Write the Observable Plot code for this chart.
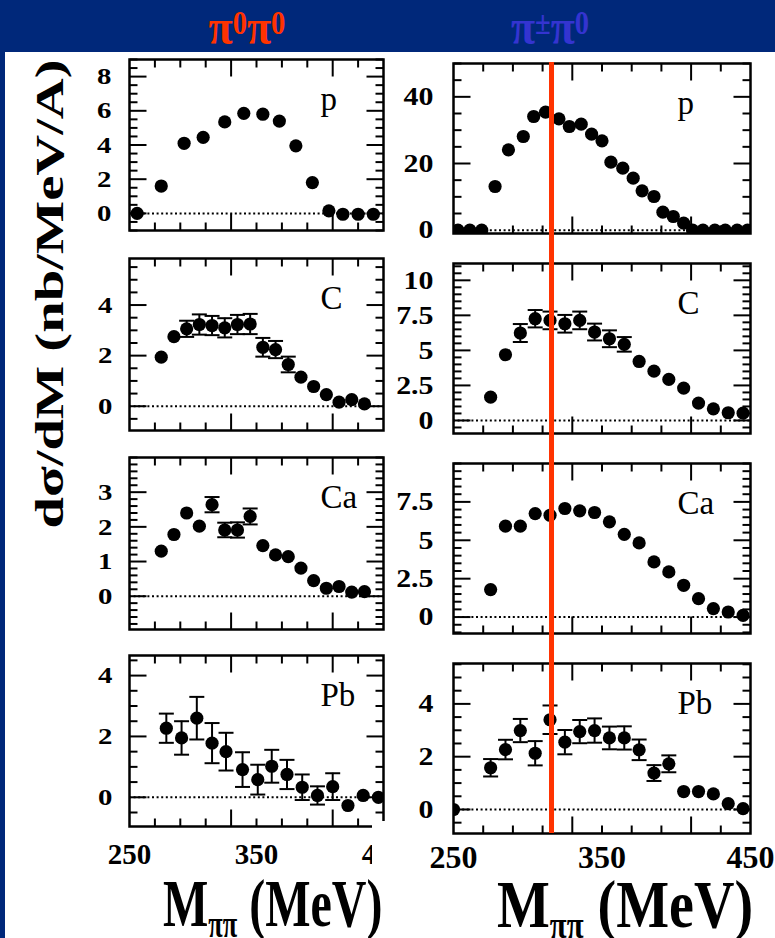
<!DOCTYPE html>
<html>
<head>
<meta charset="utf-8">
<script src="https://cdn.jsdelivr.net/npm/d3@7"></script>
<script src="https://cdn.jsdelivr.net/npm/@observablehq/plot@0.6"></script>
<style>
html,body{margin:0;padding:0;background:#00287a;}
body{width:775px;height:938px;overflow:hidden;}
#page{position:relative;width:775px;height:938px;background:#00287a;font-family:'Liberation Serif','Times New Roman',serif;}
#white{position:absolute;left:5px;top:52px;width:770px;height:886px;background:#fff;}
.plot{position:absolute;}
.plot svg{overflow:visible;}
.plot svg text{font-family:'Liberation Serif','Times New Roman',serif !important;}
.coltitle{position:absolute;top:0px;font-weight:bold;font-size:44px;line-height:48px;white-space:nowrap;transform:translateX(-50%) scaleY(1.15);transform-origin:50% 0;font-family:'Liberation Serif','Times New Roman',serif;}
.coltitle sup{font-size:0.65em;vertical-align:0.3em;line-height:0;}
.xt{position:absolute;font-weight:bold;line-height:0.6;white-space:nowrap;color:#000;font-family:'Liberation Serif','Times New Roman',serif;}
.xt .sub{font-size:0.55em;position:relative;top:0.3em;}
#ytitle{position:absolute;left:49px;top:294px;font-weight:bold;font-size:39px;line-height:1;white-space:nowrap;color:#000;font-family:'Liberation Serif','Times New Roman',serif;transform:translate(-50%,-50%) rotate(-90deg) scaleX(1.45);}
#crop{position:absolute;left:372px;top:821px;width:48px;height:60px;background:#fff;}
</style>
</head>
<body>
<div id="page">
  <div id="white"></div>
  <div class="coltitle" style="left:247px;color:#ff3300">π<sup>0</sup>π<sup>0</sup></div>
  <div class="coltitle" style="left:550px;color:#3434d0">π<sup>±</sup>π<sup>0</sup></div>
  <div id="ytitle">dσ/dM (nb/MeV/A)</div>
  <div class="xt" id="xtL" style="left:163px;top:895.6px;font-size:48px;transform:scaleY(1.4);transform-origin:0 30.6px;">M<span class="sub">ππ</span> (MeV)</div>
  <div class="xt" id="xtR" style="left:497px;top:892.3px;font-size:56px;transform:scaleY(1.22);transform-origin:0 35.7px;">M<span class="sub">ππ</span> (MeV)</div>
</div>
<script>
// ---------------- data ----------------
// π0π0 (left column)
const pi00_p_x  = [256, 275, 293, 308, 325, 340, 355, 368, 381, 394, 407, 418, 430, 442];
const pi00_p_y  = [0, 1.6, 4.1, 4.45, 5.35, 5.85, 5.8, 5.4, 3.95, 1.8, 0.15, -0.05, -0.05, -0.05];

const pi00_C_x  = [275, 285, 295, 305, 315, 325, 335, 345, 355, 365, 375, 385, 395, 405, 415, 425, 435];
const pi00_C_y  = [1.94, 2.75, 3.06, 3.23, 3.19, 3.1, 3.23, 3.25, 2.33, 2.24, 1.65, 1.15, 0.78, 0.46, 0.16, 0.26, 0.09];
const pi00_C_e  = [null, null, 0.32, 0.4, 0.38, 0.38, 0.38, 0.4, 0.37, 0.34, 0.31, null, null, null, null, null, null];

const pi00_Ca_x = [275, 285, 295, 305, 315, 325, 335, 345, 355, 365, 375, 385, 395, 405, 415, 425, 435];
const pi00_Ca_y = [1.30, 1.78, 2.40, 2.02, 2.64, 1.91, 1.91, 2.30, 1.46, 1.19, 1.14, 0.81, 0.45, 0.23, 0.28, 0.12, 0.13];
const pi00_Ca_e = [null, null, null, null, 0.22, 0.21, 0.22, 0.23, null, null, null, null, null, null, null, null, null];

const pi00_Pb_x = [279, 291, 303, 315, 326, 339, 351, 362, 374, 386, 398, 410, 422, 434, 446];
const pi00_Pb_y = [2.27, 1.95, 2.6, 1.78, 1.5, 0.91, 0.58, 1.02, 0.75, 0.33, 0.06, 0.35, -0.27, 0.06, 0.0];
const pi00_Pb_e = [0.48, 0.55, 0.70, 0.66, 0.62, 0.57, 0.49, 0.54, 0.48, 0.42, 0.30, 0.44, null, null, null];

// π±π0 (right column)
const pipm_p_x  = [253, 261, 269, 278, 287, 297, 304, 312, 321, 328, 336, 343, 350, 356, 364, 371, 377, 385, 391, 398, 405, 411, 418, 426, 433, 441, 448];
const pipm_p_y  = [0, 0, 0, 13.1, 24.1, 28.1, 34.1, 35.4, 33.4, 31.1, 31.8, 28.8, 26.8, 20.4, 18.6, 15.6, 11.8, 10.1, 5.4, 4.1, 2.1, 0, 0, 0, 0, 0, 0];

const pipm_C_x  = [275, 285, 295, 305, 315, 325, 335, 345, 355, 365, 375, 385, 395, 405, 415, 425, 435, 445];
const pipm_C_y  = [1.66, 4.69, 6.24, 7.26, 7.14, 6.9, 7.14, 6.31, 5.83, 5.43, 4.21, 3.52, 2.93, 2.31, 1.24, 0.83, 0.55, 0.52];
const pipm_C_e  = [null, null, 0.64, 0.62, 0.63, 0.63, 0.63, 0.6, 0.6, 0.52, null, null, null, null, null, null, null, null];

const pipm_Ca_x = [275, 285, 295, 305, 315, 325, 335, 345, 355, 365, 375, 385, 395, 405, 415, 425, 435, 445];
const pipm_Ca_y = [1.79, 5.92, 5.92, 6.74, 6.63, 7.07, 6.92, 6.81, 6.2, 5.39, 4.83, 3.59, 2.94, 2.07, 1.2, 0.55, 0.33, 0.11];

const pipm_Pb_x = [250, 275, 285, 295, 305, 315, 325, 335, 345, 355, 365, 375, 385, 395, 405, 415, 425, 435, 445];
const pipm_Pb_y = [0, 1.58, 2.27, 2.99, 2.13, 3.4, 2.55, 2.95, 2.99, 2.71, 2.71, 2.26, 1.38, 1.73, 0.68, 0.68, 0.59, 0.22, 0.03];
const pipm_Pb_e = [null, 0.33, 0.37, 0.44, 0.46, 0.54, 0.46, 0.44, 0.46, 0.43, 0.44, 0.39, 0.3, 0.32, null, null, null, null, null];

// axes / labels
const xTickLabels = [250, 350, 450];
const xMinorTicks = [270, 290, 310, 350, 370, 390, 430];
const xMajorTicks = [330, 410];
const redLineAt   = [316];
const panelLabels = ["p", "C", "Ca", "Pb"];

// ---------------- layout / style ----------------
const serif = "'Liberation Serif','Times New Roman',serif";
const page = document.getElementById("page");

const cols = {
  left:  {fx: 129, fw: 254, tops: [59, 258, 457, 655], hs: [171, 172, 172, 171], labelDx: -63, ySize: 24, yStretch: 1.2, xSize: 29, xPad: 17},
  right: {fx: 453, fw: 297, tops: [63, 263, 463, 663], hs: [170, 170, 170, 170], labelDx: -73, ySize: 26, yStretch: 1.15, xSize: 32, xPad: 12}
};

const panels = [
  {col: "left", row: 0, x: pi00_p_x, y: pi00_p_y, e: null, domain: [-1, 9], major: [0, 2, 4, 6, 8], minor: 0.5, pad: 18},
  {col: "left", row: 1, x: pi00_C_x, y: pi00_C_y, e: pi00_C_e, domain: [-0.96, 5.84], major: [0, 2, 4], minor: 0.5, pad: 17},
  {col: "left", row: 2, x: pi00_Ca_x, y: pi00_Ca_y, e: pi00_Ca_e, domain: [-0.96, 4.0], major: [0, 1, 2, 3], minor: 0.2, pad: 17},
  {col: "left", row: 3, x: pi00_Pb_x, y: pi00_Pb_y, e: pi00_Pb_e, domain: [-0.96, 4.66], major: [0, 2, 4], minor: 0.5, pad: 17},
  {col: "right", row: 0, x: pipm_p_x, y: pipm_p_y, e: null, domain: [-1, 50], major: [0, 20, 40], minor: 5, pad: 20},
  {col: "right", row: 1, x: pipm_C_x, y: pipm_C_y, e: pipm_C_e, domain: [-0.93, 11.2], major: [0, 2.5, 5, 7.5, 10], minor: 0.5, pad: 20},
  {col: "right", row: 2, x: pipm_Ca_x, y: pipm_Ca_y, e: null, domain: [-1.07, 10], major: [0, 2.5, 5, 7.5], minor: 0.5, pad: 20},
  {col: "right", row: 3, x: pipm_Pb_x, y: pipm_Pb_y, e: pipm_Pb_e, domain: [-0.91, 5.53], major: [0, 2, 4], minor: 0.5, pad: 20}
];

// custom line symbols (length = r in pixels)
const len = (s) => Math.sqrt(s / Math.PI);
const capSym   = {draw(c, s) { const w = len(s); c.moveTo(-w, 0); c.lineTo(w, 0); }};
const tickUp   = {draw(c, s) { c.moveTo(0, 0); c.lineTo(0, -len(s)); }};
const tickDown = {draw(c, s) { c.moveTo(0, 0); c.lineTo(0, len(s)); }};
const tickRight= {draw(c, s) { c.moveTo(0, 0); c.lineTo(len(s), 0); }};
const tickLeft = {draw(c, s) { c.moveTo(0, 0); c.lineTo(-len(s), 0); }};

const tickStyle = {stroke: "black", strokeWidth: 2, fill: "none"};

function place(svg, left, top) {
  const div = document.createElement("div");
  div.className = "plot";
  div.style.left = left + "px";
  div.style.top = top + "px";
  div.appendChild(svg);
  page.appendChild(div);
}

// widen the tick-label glyphs horizontally (as in the slide), keeping their anchor point
function stretchText(svg, selector, sx, sy) {
  svg.querySelectorAll(selector).forEach(t => {
    const tr = t.getAttribute("transform") || "";
    const x = t.getAttribute("x");
    if (x != null && /^-?[\d.]+$/.test(x)) t.setAttribute("x", +x / sx);
    t.setAttribute("transform", (tr + ` scale(${sx},${sy})`).trim());
  });
}

const mL = 70, mR = 14, mT = 10;

for (const P of panels) {
  const C = cols[P.col];
  const ft = C.tops[P.row], fh = C.hs[P.row];
  const bottomRow = P.row === 3;
  const mB = bottomRow ? 64 : 10;
  const data = P.x.map((x, i) => ({x, y: P.y[i], e: P.e ? P.e[i] : null}));
  const errs = data.filter(d => d.e != null);
  const caps = errs.flatMap(d => [{x: d.x, y: d.y - d.e}, {x: d.x, y: d.y + d.e}]);
  const [y0, y1] = P.domain;
  const yMinor = d3.range(Math.ceil(y0 / P.minor) * P.minor, y1 + 1e-9, P.minor)
    .filter(v => !P.major.some(m => Math.abs(m - v) < 1e-6));

  const marks = [
    Plot.ruleY([0], {stroke: "black", strokeWidth: 2, strokeDasharray: "2,2.6"}),
    Plot.ruleX(errs, {x: "x", y1: d => d.y - d.e, y2: d => d.y + d.e, stroke: "black", strokeWidth: 2}),
    Plot.dot(caps, {x: "x", y: "y", symbol: capSym, r: 7.5, ...tickStyle}),
    Plot.dot(data, {x: "x", y: "y", r: 6.6, fill: "black", stroke: "none", clip: true}),
    // x ticks, inward, bottom and top
    Plot.dot(xMinorTicks, {x: d => d, frameAnchor: "bottom", symbol: tickUp, r: 8, ...tickStyle}),
    Plot.dot(xMajorTicks, {x: d => d, frameAnchor: "bottom", symbol: tickUp, r: 17, ...tickStyle}),
    Plot.dot(xMinorTicks, {x: d => d, frameAnchor: "top", symbol: tickDown, r: 8, ...tickStyle}),
    Plot.dot(xMajorTicks, {x: d => d, frameAnchor: "top", symbol: tickDown, r: 17, ...tickStyle}),
    // y ticks, inward, left and right
    Plot.dot(yMinor, {y: d => d, frameAnchor: "left", symbol: tickRight, r: 8, ...tickStyle}),
    Plot.dot(P.major, {y: d => d, frameAnchor: "left", symbol: tickRight, r: 17, ...tickStyle}),
    Plot.dot(yMinor, {y: d => d, frameAnchor: "right", symbol: tickLeft, r: 8, ...tickStyle}),
    Plot.dot(P.major, {y: d => d, frameAnchor: "right", symbol: tickLeft, r: 17, ...tickStyle}),
    Plot.frame({stroke: "black", strokeWidth: 2.5}),
    Plot.axisY({ticks: P.major, tickSize: 0, tickPadding: P.pad, fontSize: C.ySize, fontWeight: "bold", fontFamily: serif, label: null, tickFormat: d => String(d)}),
    Plot.text([panelLabels[P.row]], {text: d => d, frameAnchor: "top-right", textAnchor: "start", lineAnchor: "top", dx: C.labelDx, dy: 27, fontSize: 33, fontFamily: serif, fill: "black"})
  ];
  if (bottomRow) {
    marks.push(Plot.axisX({ticks: xTickLabels, tickSize: 0, tickPadding: C.xPad, fontSize: C.xSize, fontWeight: "bold", fontFamily: serif, label: null, tickFormat: d => String(d)}));
  }

  const svg = Plot.plot({
    width: C.fw + mL + mR,
    height: fh + mT + mB,
    marginLeft: mL, marginRight: mR, marginTop: mT, marginBottom: mB,
    x: {domain: [250, 450], axis: bottomRow ? undefined : null},
    y: {domain: P.domain},
    style: {background: "transparent", color: "black", fontFamily: serif, overflow: "visible"},
    marks
  });
  stretchText(svg, 'g[aria-label="y-axis tick label"] text', C.yStretch, 1);
  place(svg, C.fx - mL, ft - mT);
}

// crop of the bottom-right corner of the left column (as in the slide)
const crop = document.createElement("div");
crop.id = "crop";
page.appendChild(crop);

// red vertical line across the right column
{
  const C = cols.right;
  const top = 62, bottom = 833;
  const svg = Plot.plot({
    width: C.fw + mL + mR,
    height: bottom - top,
    marginLeft: mL, marginRight: mR, marginTop: 0, marginBottom: 0,
    x: {domain: [250, 450], axis: null},
    y: {axis: null},
    style: {background: "transparent", overflow: "visible"},
    marks: [Plot.ruleX(redLineAt, {stroke: "#ff3300", strokeWidth: 5})]
  });
  place(svg, C.fx - mL, top);
}
</script>
</body>
</html>
